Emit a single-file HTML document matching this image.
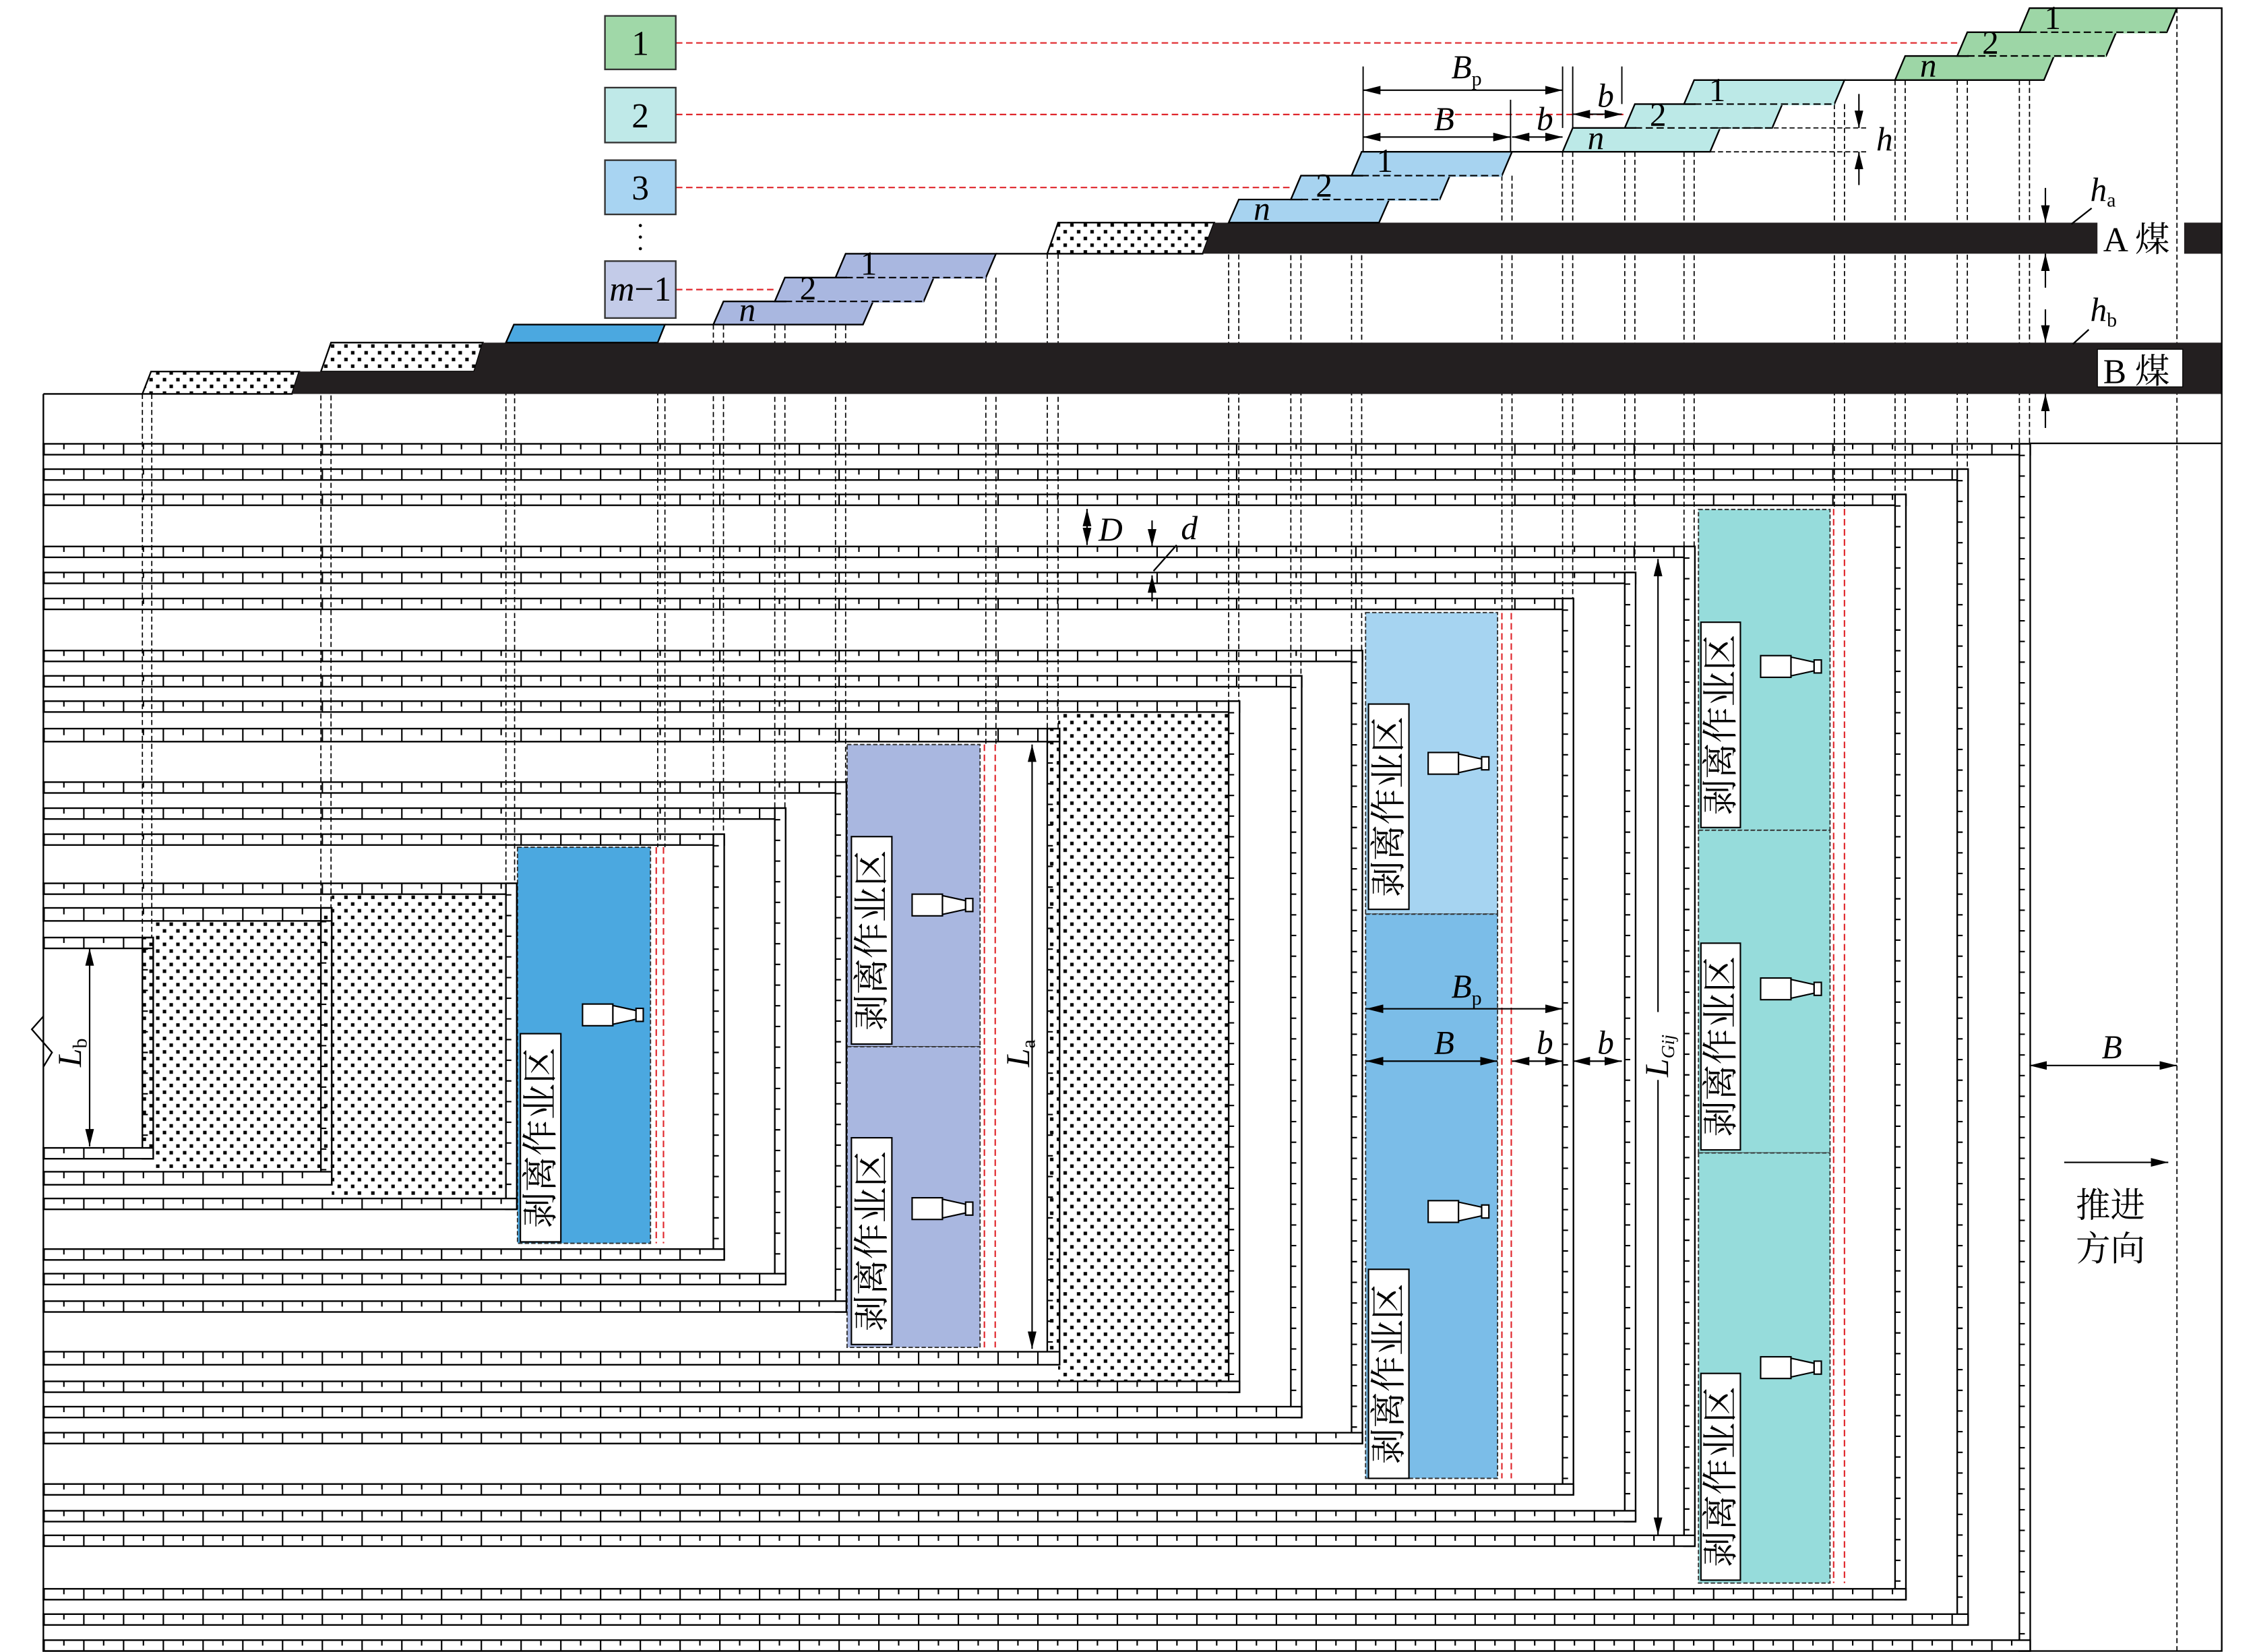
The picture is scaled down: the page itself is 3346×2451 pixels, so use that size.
<!DOCTYPE html>
<html><head><meta charset="utf-8"><style>
html,body{margin:0;padding:0;background:#fff}
svg{display:block}
.s{fill:#fff;stroke:#000;stroke-width:1.1}
.t1{stroke:#000;stroke-width:7.5;stroke-dasharray:1 26.5}
.t2{stroke:#000;stroke-width:3.75;stroke-dasharray:1 26.5;stroke-dashoffset:-13.7}
.v1{stroke:#000;stroke-width:3.75;stroke-dasharray:1 13.3}
.dl{stroke:#000;stroke-width:.8;stroke-dasharray:3.5 2;fill:none}
.rd{stroke:#e0262b;stroke-width:1;stroke-dasharray:4.5 2.5;fill:none}
.ln{stroke:#000;stroke-width:1.1;fill:none}
.bx{stroke:#333;stroke-width:.9;stroke-dasharray:3 1.5}
.dm{stroke:#000;stroke-width:1;fill:none;marker-end:url(#a)}
.dm2{stroke:#000;stroke-width:1;fill:none;marker-end:url(#a);marker-start:url(#a)}
text{font-family:"Liberation Serif","Noto Serif CJK SC",serif;fill:#000}
.it{font-style:italic}
.cj{font-family:"Liberation Serif","Noto Serif CJK SC",serif}
</style></head><body>
<svg width="3346" height="2451" viewBox="0 0 1560 1142.7" preserveAspectRatio="none" xmlns="http://www.w3.org/2000/svg">
<defs>
<pattern id="dots" width="9.3" height="9.3" patternUnits="userSpaceOnUse">
<rect x="1" y="1" width="2.4" height="2.4" fill="#000"/><rect x="5.65" y="5.65" width="2.4" height="2.4" fill="#000"/>
</pattern>
<marker id="a" viewBox="0 0 12 6" refX="12" refY="3" markerWidth="12" markerHeight="6" markerUnits="userSpaceOnUse" orient="auto-start-reverse"><path d="M0,0 L12,3 L0,6z" fill="#000"/></marker>
<g id="ic"><rect x="0" y="-7.5" width="21" height="15" fill="#fff" stroke="#000" stroke-width="1"/><polygon points="21,-6.5 37,-3 37,3 21,6.5" fill="#fff" stroke="#000" stroke-width="1"/><rect x="37" y="-4.5" width="5" height="9" fill="#fff" stroke="#000" stroke-width="1"/></g>
</defs>
<rect width="1560" height="1142.7" fill="#fff"/>

<rect x="732" y="492.5" width="118" height="463" fill="url(#dots)"/>
<rect x="229.5" y="618.5" width="120.5" height="210.5" fill="url(#dots)"/>
<rect x="106" y="637" width="116" height="173.5" fill="url(#dots)"/>

<rect class="bx" x="358" y="586" width="92" height="274" fill="#4ba8e0"/>
<rect class="bx" x="586" y="515" width="92" height="209" fill="#a9b7e0"/>
<rect class="bx" x="586" y="724" width="92" height="208" fill="#a9b7e0"/>
<rect class="bx" x="944.7" y="423.7" width="91.3" height="208.6" fill="#a6d4f1"/>
<rect class="bx" x="944.7" y="632.3" width="91.3" height="390.3" fill="#7bbde8"/>
<rect class="bx" x="1175" y="352.4" width="91" height="221.9" fill="#96dcdb"/>
<rect class="bx" x="1175" y="574.3" width="91" height="223.2" fill="#96dcdb"/>
<rect class="bx" x="1175" y="797.5" width="91" height="297.5" fill="#96dcdb"/>

<g>
<rect class="s" x="30" y="307" width="1374.5" height="7.5"/><line class="t1" x1="30" x2="1397" y1="310.75" y2="310.75"/><line class="t2" x1="30" x2="1397" y1="308.9" y2="308.9"/>
<rect class="s" x="1397" y="307" width="7.5" height="835"/><line class="v1" x1="1398.9" x2="1398.9" y1="314.5" y2="1134.5"/>
<rect class="s" x="30" y="1134.5" width="1374.5" height="7.5"/><line class="t1" x1="30" x2="1397" y1="1138.25" y2="1138.25"/><line class="t2" x1="30" x2="1397" y1="1136.4" y2="1136.4"/>
<rect class="s" x="30" y="324.5" width="1331.5" height="7.5"/><line class="t1" x1="30" x2="1354" y1="328.25" y2="328.25"/><line class="t2" x1="30" x2="1354" y1="326.4" y2="326.4"/>
<rect class="s" x="1354" y="324.5" width="7.5" height="799.5"/><line class="v1" x1="1355.9" x2="1355.9" y1="332" y2="1116.5"/>
<rect class="s" x="30" y="1116.5" width="1331.5" height="7.5"/><line class="t1" x1="30" x2="1354" y1="1120.25" y2="1120.25"/><line class="t2" x1="30" x2="1354" y1="1118.4" y2="1118.4"/>
<rect class="s" x="30" y="342" width="1288.5" height="7.5"/><line class="t1" x1="30" x2="1311" y1="345.75" y2="345.75"/><line class="t2" x1="30" x2="1311" y1="343.9" y2="343.9"/>
<rect class="s" x="1311" y="342" width="7.5" height="764.5"/><line class="v1" x1="1312.9" x2="1312.9" y1="349.5" y2="1099"/>
<rect class="s" x="30" y="1099" width="1288.5" height="7.5"/><line class="t1" x1="30" x2="1311" y1="1102.75" y2="1102.75"/><line class="t2" x1="30" x2="1311" y1="1100.9" y2="1100.9"/>
<rect class="s" x="30" y="378" width="1142.5" height="7.5"/><line class="t1" x1="30" x2="1165" y1="381.75" y2="381.75"/><line class="t2" x1="30" x2="1165" y1="379.9" y2="379.9"/>
<rect class="s" x="1165" y="378" width="7.5" height="691.5"/><line class="v1" x1="1166.9" x2="1166.9" y1="385.5" y2="1062"/>
<rect class="s" x="30" y="1062" width="1142.5" height="7.5"/><line class="t1" x1="30" x2="1165" y1="1065.75" y2="1065.75"/><line class="t2" x1="30" x2="1165" y1="1063.9" y2="1063.9"/>
<rect class="s" x="30" y="396" width="1101.5" height="7.5"/><line class="t1" x1="30" x2="1124" y1="399.75" y2="399.75"/><line class="t2" x1="30" x2="1124" y1="397.9" y2="397.9"/>
<rect class="s" x="1124" y="396" width="7.5" height="656.5"/><line class="v1" x1="1125.9" x2="1125.9" y1="403.5" y2="1045"/>
<rect class="s" x="30" y="1045" width="1101.5" height="7.5"/><line class="t1" x1="30" x2="1124" y1="1048.75" y2="1048.75"/><line class="t2" x1="30" x2="1124" y1="1046.9" y2="1046.9"/>
<rect class="s" x="30" y="414" width="1058.5" height="7.5"/><line class="t1" x1="30" x2="1081" y1="417.75" y2="417.75"/><line class="t2" x1="30" x2="1081" y1="415.9" y2="415.9"/>
<rect class="s" x="1081" y="414" width="7.5" height="620"/><line class="v1" x1="1082.9" x2="1082.9" y1="421.5" y2="1026.5"/>
<rect class="s" x="30" y="1026.5" width="1058.5" height="7.5"/><line class="t1" x1="30" x2="1081" y1="1030.25" y2="1030.25"/><line class="t2" x1="30" x2="1081" y1="1028.4" y2="1028.4"/>
<rect class="s" x="30" y="450" width="912.5" height="7.5"/><line class="t1" x1="30" x2="935" y1="453.75" y2="453.75"/><line class="t2" x1="30" x2="935" y1="451.9" y2="451.9"/>
<rect class="s" x="935" y="450" width="7.5" height="548.5"/><line class="v1" x1="936.9" x2="936.9" y1="457.5" y2="991"/>
<rect class="s" x="30" y="991" width="912.5" height="7.5"/><line class="t1" x1="30" x2="935" y1="994.75" y2="994.75"/><line class="t2" x1="30" x2="935" y1="992.9" y2="992.9"/>
<rect class="s" x="30" y="467.5" width="870.5" height="7.5"/><line class="t1" x1="30" x2="893" y1="471.25" y2="471.25"/><line class="t2" x1="30" x2="893" y1="469.4" y2="469.4"/>
<rect class="s" x="893" y="467.5" width="7.5" height="513"/><line class="v1" x1="894.9" x2="894.9" y1="475" y2="973"/>
<rect class="s" x="30" y="973" width="870.5" height="7.5"/><line class="t1" x1="30" x2="893" y1="976.75" y2="976.75"/><line class="t2" x1="30" x2="893" y1="974.9" y2="974.9"/>
<rect class="s" x="30" y="485" width="827.5" height="7.5"/><line class="t1" x1="30" x2="850" y1="488.75" y2="488.75"/><line class="t2" x1="30" x2="850" y1="486.9" y2="486.9"/>
<rect class="s" x="850" y="485" width="7.5" height="478"/><line class="v1" x1="851.9" x2="851.9" y1="492.5" y2="955.5"/>
<rect class="s" x="30" y="955.5" width="827.5" height="7.5"/><line class="t1" x1="30" x2="850" y1="959.25" y2="959.25"/><line class="t2" x1="30" x2="850" y1="957.4" y2="957.4"/>
<rect class="s" x="30" y="504" width="703" height="9"/><line class="t1" style="stroke-width:9" x1="30" x2="724.5" y1="508.5" y2="508.5"/><line class="t2" style="stroke-width:4.5" x1="30" x2="724.5" y1="506.25" y2="506.25"/>
<rect class="s" x="724.5" y="504" width="8.5" height="440" style="fill:url(#dots)"/><line class="v1" x1="726.5" x2="726.5" y1="513" y2="935"/>
<rect class="s" x="30" y="935" width="703" height="9"/><line class="t1" style="stroke-width:9" x1="30" x2="724.5" y1="939.5" y2="939.5"/><line class="t2" style="stroke-width:4.5" x1="30" x2="724.5" y1="937.25" y2="937.25"/>
<rect class="s" x="30" y="541" width="555.5" height="7.5"/><line class="t1" x1="30" x2="578" y1="544.75" y2="544.75"/><line class="t2" x1="30" x2="578" y1="542.9" y2="542.9"/>
<rect class="s" x="578" y="541" width="7.5" height="366.5"/><line class="v1" x1="579.9" x2="579.9" y1="548.5" y2="900"/>
<rect class="s" x="30" y="900" width="555.5" height="7.5"/><line class="t1" x1="30" x2="578" y1="903.75" y2="903.75"/><line class="t2" x1="30" x2="578" y1="901.9" y2="901.9"/>
<rect class="s" x="30" y="559" width="513.5" height="7.5"/><line class="t1" x1="30" x2="536" y1="562.75" y2="562.75"/><line class="t2" x1="30" x2="536" y1="560.9" y2="560.9"/>
<rect class="s" x="536" y="559" width="7.5" height="329.5"/><line class="v1" x1="537.9" x2="537.9" y1="566.5" y2="881"/>
<rect class="s" x="30" y="881" width="513.5" height="7.5"/><line class="t1" x1="30" x2="536" y1="884.75" y2="884.75"/><line class="t2" x1="30" x2="536" y1="882.9" y2="882.9"/>
<rect class="s" x="30" y="577" width="471" height="7.5"/><line class="t1" x1="30" x2="493.5" y1="580.75" y2="580.75"/><line class="t2" x1="30" x2="493.5" y1="578.9" y2="578.9"/>
<rect class="s" x="493.5" y="577" width="7.5" height="294.5"/><line class="v1" x1="495.4" x2="495.4" y1="584.5" y2="864"/>
<rect class="s" x="30" y="864" width="471" height="7.5"/><line class="t1" x1="30" x2="493.5" y1="867.75" y2="867.75"/><line class="t2" x1="30" x2="493.5" y1="865.9" y2="865.9"/>
<rect class="s" x="30" y="611" width="327.5" height="7.5"/><line class="t1" x1="30" x2="350" y1="614.75" y2="614.75"/><line class="t2" x1="30" x2="350" y1="612.9" y2="612.9"/>
<rect class="s" x="350" y="611" width="7.5" height="225.5"/><line class="v1" x1="351.9" x2="351.9" y1="618.5" y2="829"/>
<rect class="s" x="30" y="829" width="327.5" height="7.5"/><line class="t1" x1="30" x2="350" y1="832.75" y2="832.75"/><line class="t2" x1="30" x2="350" y1="830.9" y2="830.9"/>
<rect class="s" x="30" y="628" width="199.5" height="9"/><line class="t1" style="stroke-width:9" x1="30" x2="222" y1="632.5" y2="632.5"/><line class="t2" style="stroke-width:4.5" x1="30" x2="222" y1="630.25" y2="630.25"/>
<rect class="s" x="222" y="628" width="7.5" height="191.5" style="fill:url(#dots)"/><line class="v1" x1="223.9" x2="223.9" y1="637" y2="810.5"/>
<rect class="s" x="30" y="810.5" width="199.5" height="9"/><line class="t1" style="stroke-width:9" x1="30" x2="222" y1="815" y2="815"/><line class="t2" style="stroke-width:4.5" x1="30" x2="222" y1="812.75" y2="812.75"/>
<rect class="s" x="30" y="648.5" width="76" height="7.5"/><line class="t1" x1="30" x2="98.5" y1="652.25" y2="652.25"/><line class="t2" x1="30" x2="98.5" y1="650.4" y2="650.4"/>
<rect class="s" x="98.5" y="648.5" width="7.5" height="153" style="fill:url(#dots)"/><line class="v1" x1="100.4" x2="100.4" y1="656" y2="794"/>
<rect class="s" x="30" y="794" width="76" height="7.5"/><line class="t1" x1="30" x2="98.5" y1="797.75" y2="797.75"/><line class="t2" x1="30" x2="98.5" y1="795.9" y2="795.9"/>
</g>

<g class="rd">
<path d="M454 586V860M459 586V860M681 515V932M688.5 515V932M1039 424V1022.6M1045.5 424V1022.6M1268.5 352V1095M1276 352V1095"/>
<path d="M467.6 29.7H1354M467.6 79.2H1124M467.6 129.7H893M467.6 200.3H536"/>
</g>

<path class="dl" d="M1397 22.3V307M1404 22.3V307M1354 38.7V324.5M1361 38.7V324.5M1311 55.4V342M1318 55.4V342M1506 5.6V1142
M1165 72V378M1172 72V378M1124 88.5V396M1131 88.5V396M1081 105V414M1088 105V414M1269 72V352M1276 72V352
M935 121.5V450M942 121.5V450M893 138V467.5M900 138V467.5M850 154V485M857 154V485M1039 121.5V424M1046 121.5V424
M578 192V541M585 192V541M536 208.5V559M543 208.5V559M493.5 224.5V577M500.5 224.5V577M682 192V515M689 192V515
M350 237V611M356 237V611M455 237V586M460 237V586M222 257V628M229 257V628M98.5 272.5V648.5M105 272.5V648.5M724.5 175.5V504M732 175.5V504"/>

<polygon points="98.5,272.5 104.5,257 207,257 202,272.5" fill="url(#dots)" stroke="#000" stroke-width="1.1"/>
<polygon points="222,257 229,237 334,237 328,257" fill="url(#dots)" stroke="#000" stroke-width="1.1"/>
<polygon points="724.5,175.5 732,154 840,154 832,175.5" fill="url(#dots)" stroke="#000" stroke-width="1.1"/>
<polygon points="202,272.5 207,257 328,257 334,237 1537,237 1537,272.5" fill="#231f20"/>
<polygon points="832,175.5 840,154 1451,154 1451,175.5" fill="#231f20"/>
<rect x="1511" y="154" width="26" height="21.5" fill="#231f20"/>
<polygon points="350,237 355.5,224.5 460,224.5 455,237" fill="#4ba8e0" stroke="#000" stroke-width="1.1"/>

<g stroke="#000" stroke-width="1.1">
<polygon points="493.5,224.5 500.5,208.5 604,208.5 597,224.5" fill="#a9b7e0"/>
<polygon points="536,208.5 543,192 646,192 639,208.5" fill="#a9b7e0"/>
<polygon points="578,192 585,175.5 689,175.5 682,192" fill="#a9b7e0"/>
<polygon points="850,154 857,138 961,138 954,154" fill="#a7d3f0"/>
<polygon points="893,138 900,121.5 1003,121.5 996,138" fill="#a7d3f0"/>
<polygon points="935,121.5 942,105 1046,105 1039,121.5" fill="#a7d3f0"/>
<polygon points="1081,105 1088,88.5 1190,88.5 1183,105" fill="#bce9e7"/>
<polygon points="1124,88.5 1131,72 1233,72 1226,88.5" fill="#bce9e7"/>
<polygon points="1165,72 1172,55.4 1276,55.4 1269,72" fill="#bce9e7"/>
<polygon points="1311,55.4 1318,38.7 1421,38.7 1414,55.4" fill="#9dd6a6"/>
<polygon points="1354,38.7 1361,22.3 1464,22.3 1457,38.7" fill="#9dd6a6"/>
<polygon points="1397,22.3 1404,5.6 1506,5.6 1499,22.3" fill="#9dd6a6"/>
</g>
<g stroke-width="1.6">
<path d="M544 208.5H639M586 192H682" stroke="#a9b7e0"/>
<path d="M901 138H996M943 121.5H1039" stroke="#a7d3f0"/>
<path d="M1132 88.5H1226M1173 72H1269" stroke="#bce9e7"/>
<path d="M1362 38.7H1457M1405 22.3H1499" stroke="#9dd6a6"/>
</g>
<path class="dl" style="stroke-width:1;stroke-dasharray:5 2.5" d="M543 208.5H639M585 192H682M900 138H996M942 121.5H1039M1131 88.5H1226M1172 72H1269M1361 38.7H1457M1404 22.3H1499"/>

<path class="ln" d="M30 272.5H98.5M460 224.5H493.5M689 175.5H724.5M1046 105H1081M1276 55.4H1311M1506 5.6H1537V1142H30V272.5M1404 306.7H1537"/>
<path class="ln" d="M30 703L22 712L36 728L30 738"/>

<g font-size="23" text-anchor="middle">
<text x="601" y="190">1</text><text x="559" y="207">2</text><text class="it" x="517" y="222">n</text>
<text x="958" y="119">1</text><text x="916" y="136">2</text><text class="it" x="873" y="152">n</text>
<text x="1188" y="70">1</text><text x="1147" y="87">2</text><text class="it" x="1104" y="103">n</text>
<text x="1420" y="20">1</text><text x="1377" y="37">2</text><text class="it" x="1334" y="53">n</text>
</g>

<rect x="418.5" y="11" width="49" height="37" fill="#a0d8a8" stroke="#333" stroke-width="1.1"/>
<rect x="418.5" y="60.6" width="49" height="38" fill="#bfe9e8" stroke="#333" stroke-width="1.1"/>
<rect x="418.5" y="110.8" width="49" height="37.5" fill="#a8d4f2" stroke="#333" stroke-width="1.1"/>
<rect x="418.5" y="180.6" width="49" height="39.4" fill="#c3cbe8" stroke="#333" stroke-width="1.1"/>
<g font-size="24" text-anchor="middle">
<text x="443" y="38">1</text><text x="443" y="88">2</text><text x="443" y="138">3</text>
<text x="443" y="208"><tspan class="it">m</tspan>−1</text>
</g>
<circle cx="443" cy="156" r="1.1" fill="#000"/><circle cx="443" cy="164" r="1.1" fill="#000"/><circle cx="443" cy="172" r="1.1" fill="#000"/>

<text class="cj" x="1455" y="174" font-size="24">A 煤</text>
<rect x="1451" y="241.6" width="59" height="26" fill="#fff" stroke="#000" stroke-width=".6"/>
<text class="cj" x="1455" y="265" font-size="24">B 煤</text>

<g font-size="25" class="cj">
<rect x="360" y="715" width="28" height="144" fill="#fff" stroke="#000" stroke-width="1"/>
<text class="cj" transform="translate(374,787) rotate(-90)" text-anchor="middle" dominant-baseline="central">剥离作业区</text>
<rect x="589" y="578.7" width="28" height="143.5" fill="#fff" stroke="#000" stroke-width="1"/>
<text class="cj" transform="translate(603,650.5) rotate(-90)" text-anchor="middle" dominant-baseline="central">剥离作业区</text>
<rect x="589" y="787" width="28" height="143" fill="#fff" stroke="#000" stroke-width="1"/>
<text class="cj" transform="translate(603,858.5) rotate(-90)" text-anchor="middle" dominant-baseline="central">剥离作业区</text>
<rect x="946.7" y="487" width="28" height="142" fill="#fff" stroke="#000" stroke-width="1"/>
<text class="cj" transform="translate(960.7,558) rotate(-90)" text-anchor="middle" dominant-baseline="central">剥离作业区</text>
<rect x="946.7" y="878" width="28" height="144.6" fill="#fff" stroke="#000" stroke-width="1"/>
<text class="cj" transform="translate(960.7,950.3) rotate(-90)" text-anchor="middle" dominant-baseline="central">剥离作业区</text>
<rect x="1176.7" y="430.4" width="27.3" height="142" fill="#fff" stroke="#000" stroke-width="1"/>
<text class="cj" transform="translate(1190.3,501.4) rotate(-90)" text-anchor="middle" dominant-baseline="central">剥离作业区</text>
<rect x="1176.7" y="652.4" width="27.3" height="143" fill="#fff" stroke="#000" stroke-width="1"/>
<text class="cj" transform="translate(1190.3,723.9) rotate(-90)" text-anchor="middle" dominant-baseline="central">剥离作业区</text>
<rect x="1176.7" y="950" width="27.3" height="143" fill="#fff" stroke="#000" stroke-width="1"/>
<text class="cj" transform="translate(1190.3,1021.5) rotate(-90)" text-anchor="middle" dominant-baseline="central">剥离作业区</text>
</g>

<use href="#ic" x="403" y="702"/>
<use href="#ic" x="631" y="626"/>
<use href="#ic" x="631" y="836"/>
<use href="#ic" x="988" y="528"/>
<use href="#ic" x="988" y="838"/>
<use href="#ic" x="1218" y="461"/>
<use href="#ic" x="1218" y="684"/>
<use href="#ic" x="1218" y="946"/>

<path class="ln" style="stroke-width:.9" d="M943 46V105M1081 46V88.5M1088 46V88.5M1122 46V72M1045 69V105"/>
<line class="dm2" x1="943" y1="62.4" x2="1081" y2="62.4"/>
<line class="dm2" x1="943" y1="94.8" x2="1045" y2="94.8"/>
<line class="dm2" x1="1046" y1="94.8" x2="1081" y2="94.8"/>
<line class="dm2" x1="1088" y1="79" x2="1122" y2="79"/>
<g font-size="23" class="it">
<text x="1004" y="54">B<tspan font-size="14" dy="5" font-style="normal">p</tspan></text>
<text x="992" y="90">B</text><text x="1063" y="90">b</text><text x="1105" y="74">b</text>
</g>
<path class="dl" d="M1183 88.5H1292M1183 105H1292"/>
<line class="dm" x1="1286" y1="65" x2="1286" y2="88.5"/>
<line class="dm" x1="1286" y1="128" x2="1286" y2="105"/>
<text class="it" x="1298" y="104" font-size="23">h</text>
<line class="dm" x1="1415" y1="130" x2="1415" y2="154"/>
<line class="dm" x1="1415" y1="199" x2="1415" y2="175.5"/>
<line class="dm" x1="1415" y1="214" x2="1415" y2="237"/>
<line class="dm" x1="1415" y1="296" x2="1415" y2="272.5"/>
<path class="ln" d="M1447 144L1433 155M1445 228L1434 238"/>
<text class="it" x="1446" y="139" font-size="23">h<tspan font-size="14" dy="4" font-style="normal">a</tspan></text>
<text class="it" x="1446" y="222" font-size="23">h<tspan font-size="14" dy="4" font-style="normal">b</tspan></text>

<line class="dm2" x1="752" y1="352" x2="752" y2="377"/>
<text class="it" x="760" y="374" font-size="23">D</text>
<line class="dm" x1="797" y1="360" x2="797" y2="378"/>
<line class="dm" x1="797" y1="416" x2="797" y2="398"/>
<path class="ln" d="M798 395L814 377"/>
<text class="it" x="817" y="373" font-size="23">d</text>

<line class="dm2" x1="714" y1="515" x2="714" y2="933"/>
<text class="it" transform="translate(712,738) rotate(-90)" font-size="23">L<tspan font-size="14" dy="4" font-style="normal">a</tspan></text>
<line class="dm2" x1="62" y1="656" x2="62" y2="793"/>
<text class="it" transform="translate(56,738) rotate(-90)" font-size="23">L<tspan font-size="14" dy="4" font-style="normal">b</tspan></text>
<line class="dm" x1="1147" y1="700" x2="1147" y2="386.6"/>
<line class="dm" x1="1147" y1="747" x2="1147" y2="1061.6"/>
<text class="it" transform="translate(1154,745) rotate(-90)" font-size="23">L<tspan font-size="13" dy="4">Gij</tspan></text>

<line class="dm2" x1="945" y1="697.8" x2="1081" y2="697.8"/>
<line class="dm2" x1="945" y1="734" x2="1036" y2="734"/>
<line class="dm2" x1="1046" y1="734" x2="1081" y2="734"/>
<line class="dm2" x1="1088" y1="734" x2="1122" y2="734"/>
<g font-size="23" class="it">
<text x="1004" y="690">B<tspan font-size="14" dy="5" font-style="normal">p</tspan></text>
<text x="992" y="729">B</text><text x="1063" y="729">b</text><text x="1105" y="729">b</text>
<text x="1454" y="732">B</text>
</g>
<line class="dm2" x1="1404" y1="737" x2="1506" y2="737"/>
<line class="dm" x1="1428" y1="804" x2="1500" y2="804"/>
<text class="cj" x="1460" y="842" font-size="24" text-anchor="middle">推进</text>
<text class="cj" x="1460" y="872" font-size="24" text-anchor="middle">方向</text>
</svg>
</body></html>
